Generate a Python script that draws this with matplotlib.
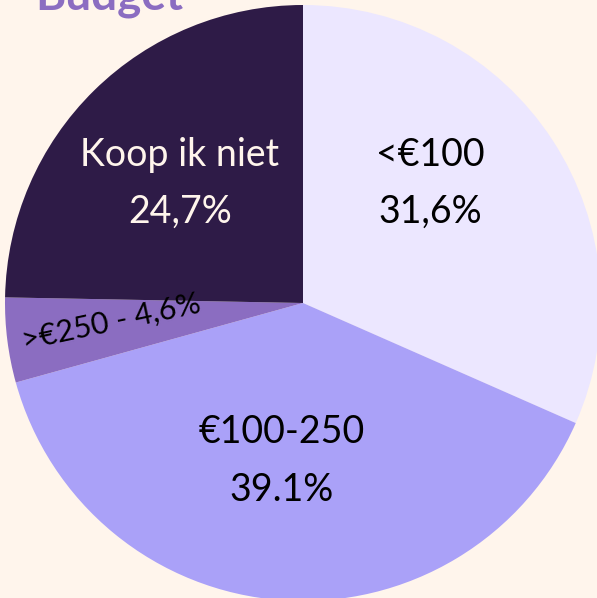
import matplotlib.pyplot as plt

labels = ["<€100", "€100-250", ">€250", "Koop ik niet"]
shares = [31.6, 39.1, 4.6, 24.7]
pct_text = ["31,6%", "39.1%", "4,6%", "24,7%"]
colors = ["#ECE7FF", "#AAA1F8", "#8B6DC1", "#2E1B47"]
bg = "#FFF5EC"

plt.rcParams['font.family'] = ['Lato', 'DejaVu Sans']

fig = plt.figure(figsize=(5.97, 5.98), dpi=100, facecolor=bg)
ax = fig.add_axes([0, 0, 1, 1])
ax.set_facecolor(bg)

# pie center at pixel (303, 303), radius 298 px
r = 298.0
ax.pie(shares, colors=colors, startangle=90, counterclock=False, radius=1,
       wedgeprops=dict(linewidth=0))
ax.set_xlim(-303 / r, (597 - 303) / r)
ax.set_ylim(-(598 - 303) / r, 303 / r)
ax.axis('off')

def px(x, y):
    return ((x - 303) / r, (303 - y) / r)

fs = 27
kw = dict(ha='center', va='center', fontsize=fs)
ax.text(*px(430, 155), labels[0], color='black', **kw)
ax.text(*px(430, 212), pct_text[0], color='black', **kw)
ax.text(*px(282, 432), labels[1], color='black', **kw)
ax.text(*px(282, 490), pct_text[1], color='black', **kw)
ax.text(*px(180, 155), labels[3], color='#FFF5EC', **kw)
ax.text(*px(180, 212), pct_text[3], color='#FFF5EC', **kw)
ax.text(*px(111, 322), labels[2] + " - " + pct_text[2], ha='center', va='center',
        fontsize=22, color='black', rotation=12, rotation_mode='anchor')

fig.text(35 / 597, 1 - 10 / 598, "Budget", ha='left', va='baseline',
         fontsize=33, fontweight='bold', color='#8B6DC1')

fig.savefig("out.png", dpi=100, facecolor=bg)
